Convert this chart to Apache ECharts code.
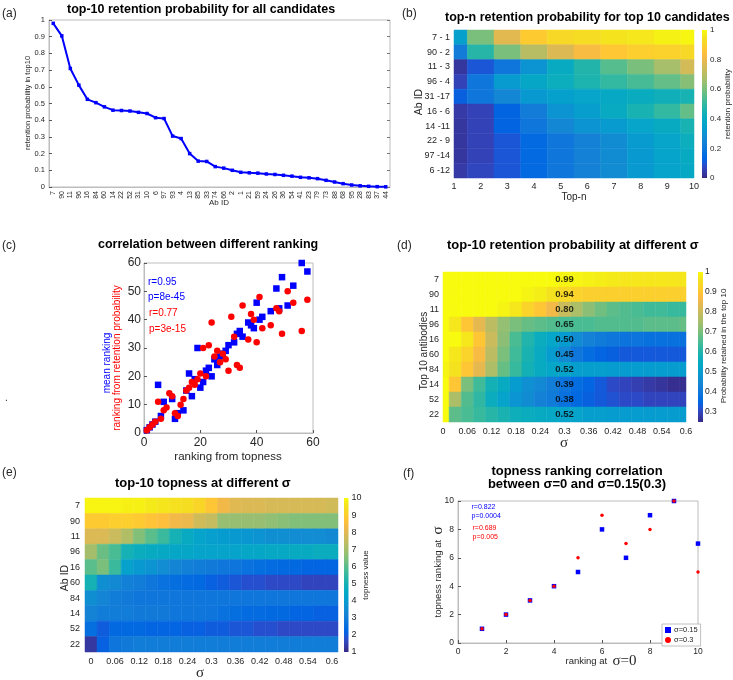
<!DOCTYPE html>
<html><head><meta charset="utf-8">
<script src="https://cdn.jsdelivr.net/npm/echarts@6/dist/echarts.min.js"></script>
<style>html,body{margin:0;padding:0;background:#fff}#c{width:733px;height:680px}</style>
</head><body><div id="c"></div>
<script>
// ---------------- data ----------------
const aIds = ['7','90','11','96','16','84','60','14','22','52','31','10','6','97','93','4','13','85','33','74','66','2','1','21','59','24','26','36','54','41','23','79','73','88','68','95','28','83','37','44'];
const aProb = [0.98,0.905,0.71,0.61,0.525,0.505,0.48,0.46,0.458,0.455,0.447,0.44,0.415,0.41,0.305,0.29,0.2,0.155,0.153,0.122,0.113,0.1,0.088,0.085,0.083,0.078,0.075,0.07,0.065,0.058,0.055,0.05,0.04,0.03,0.02,0.012,0.007,0.004,0.002,0.001];

const bRows = ['7 - 1','90 - 2','11 - 3','96 - 4','31 -17','16 - 6','14 -11','22 - 9','97 -14','6 -12'];
const bTopN = [1,2,3,4,5,6,7,8,9,10];
const bVals = [
  [0.35,0.6,0.78,0.88,0.92,0.93,0.95,0.96,0.98,0.99],
  [0.22,0.48,0.6,0.7,0.77,0.83,0.87,0.89,0.9,0.92],
  [0.03,0.1,0.2,0.3,0.4,0.47,0.55,0.6,0.67,0.75],
  [0.06,0.2,0.33,0.38,0.42,0.46,0.5,0.53,0.57,0.62],
  [0.12,0.2,0.26,0.32,0.35,0.37,0.39,0.41,0.43,0.45],
  [0.04,0.06,0.13,0.22,0.3,0.34,0.4,0.45,0.5,0.57],
  [0.03,0.06,0.13,0.2,0.26,0.3,0.33,0.37,0.4,0.45],
  [0.03,0.06,0.1,0.15,0.2,0.24,0.28,0.33,0.37,0.42],
  [0.03,0.06,0.1,0.15,0.2,0.24,0.28,0.32,0.36,0.4],
  [0.04,0.07,0.1,0.15,0.2,0.24,0.28,0.32,0.36,0.39]
];

const cBlueX = [1,2,3,4,5,6,7,10,11,12,14,15,16,17,18,19,20,21,22,23,24,25,26,27,28,29,30,32,33,34,35,37,38,39,40,41,42,45,47,48,49,51,53,56,58];
const cBlueY = [1,2,3,4,17,6,11,12,5,7,8,15,21,13,19,30,16,18,22,23,20,26,24,27,28,29,31,32,35,36,34,39,38,37,46,40,41,43,51,44,55,45,52,60,57];
const cRedX = [1,2,3,4,5,6,7,8,9,10,11,12,13,14,15,16,17,18,19,20,21,22,23,24,25,26,27,28,29,30,31,32,33,34,35,37,38,39,40,41,42,45,47,48,49,51,53,56,58];
const cRedY = [1,2,3,4,11,5,8,9,14,13,7,6,10,12,15,16,18,17,19,21,30,20,31,39,27,29,25,28,26,22,41,34,24,23,45,33,42,40,32,48,37,38,44,43,35,50,46,36,47];

const sigmas = [0,0.03,0.06,0.09,0.12,0.15,0.18,0.21,0.24,0.27,0.3,0.33,0.36,0.39,0.42,0.45,0.48,0.51,0.54,0.57,0.6];
const sigmaTicks = [0,0.06,0.12,0.18,0.24,0.3,0.36,0.42,0.48,0.54,0.6];
const sigmaTickLabels = ['0','0.06','0.12','0.18','0.24','0.3','0.36','0.42','0.48','0.54','0.6'];

const dRows = ['7','90','11','96','16','60','84','14','52','22'];
const dVals = [
  [1,1,1,1,1,1,1,1,1,1,0.99,0.99,0.985,0.98,0.975,0.97,0.97,0.97,0.97,0.97,0.97],
  [1,1,1,1,1,1,1,0.99,0.98,0.96,0.94,0.93,0.92,0.92,0.92,0.92,0.92,0.92,0.92,0.92,0.92],
  [1,1,1,1,1,0.99,0.97,0.93,0.9,0.86,0.8,0.76,0.72,0.69,0.67,0.66,0.65,0.64,0.64,0.63,0.63],
  [1,0.97,0.9,0.84,0.78,0.73,0.7,0.68,0.67,0.66,0.65,0.65,0.65,0.66,0.66,0.66,0.66,0.67,0.67,0.67,0.68],
  [1,1,0.97,0.9,0.8,0.72,0.65,0.6,0.56,0.53,0.5,0.46,0.43,0.41,0.4,0.39,0.39,0.38,0.38,0.38,0.38],
  [1,0.97,0.93,0.87,0.78,0.7,0.64,0.59,0.55,0.5,0.45,0.4,0.37,0.35,0.34,0.33,0.33,0.33,0.33,0.33,0.33],
  [0.99,0.96,0.9,0.84,0.76,0.68,0.63,0.58,0.55,0.53,0.52,0.51,0.51,0.51,0.5,0.5,0.5,0.5,0.5,0.5,0.5],
  [1,0.9,0.7,0.64,0.58,0.55,0.5,0.47,0.45,0.42,0.39,0.37,0.35,0.33,0.31,0.3,0.29,0.28,0.27,0.26,0.26],
  [1,0.76,0.66,0.62,0.56,0.52,0.48,0.46,0.43,0.41,0.38,0.36,0.34,0.33,0.32,0.31,0.31,0.3,0.3,0.3,0.3],
  [1,0.67,0.65,0.63,0.61,0.59,0.57,0.56,0.55,0.54,0.52,0.52,0.51,0.51,0.5,0.5,0.5,0.5,0.5,0.5,0.5]
];
const dMarkSigma = 0.3;
const dMarkLabels = ['0.99','0.94','0.80','0.65','0.50','0.45','0.52','0.39','0.38','0.52'];
const dCbTicks = [0.3,0.4,0.5,0.6,0.7,0.8,0.9,1];

const eRows = ['7','90','11','96','16','60','84','14','52','22'];
const eVals = [
  [9.9,9.9,9.9,9.8,9.8,9.7,9.6,9.5,9.4,9.2,8.8,8.3,8.0,7.9,7.9,7.8,7.8,7.8,7.8,7.8,7.7],
  [8.9,8.9,9.0,9.0,8.9,8.7,8.6,8.3,8.2,7.7,7.5,6.8,6.8,6.8,6.8,6.7,6.6,6.5,6.5,6.5,6.5],
  [7.9,7.9,7.6,7.2,6.5,6.0,5.6,5.0,4.6,4.3,4.1,4.0,3.9,3.8,3.7,3.6,3.6,3.5,3.5,3.5,3.4],
  [7.0,6.2,5.8,5.0,4.7,4.6,4.5,4.4,4.4,4.3,4.3,4.3,4.3,4.4,4.4,4.5,4.5,4.6,4.6,4.7,4.7],
  [6.0,6.4,5.6,4.2,3.9,3.7,3.5,3.3,3.1,3.0,2.9,2.8,2.7,2.6,2.5,2.4,2.3,2.3,2.2,2.2,2.2],
  [5.0,3.6,3.4,3.1,3.0,2.8,2.6,2.5,2.4,2.3,2.1,2.0,1.9,1.8,1.8,1.7,1.7,1.7,1.6,1.6,1.6],
  [3.6,3.3,3.0,2.9,2.8,2.8,2.8,2.8,2.8,2.8,2.8,2.8,2.8,2.8,2.8,2.8,2.8,2.8,2.8,2.8,2.8],
  [3.2,3.0,3.0,3.0,2.9,2.9,2.9,2.8,2.8,2.8,2.7,2.6,2.5,2.4,2.4,2.3,2.3,2.2,2.2,2.1,2.1],
  [2.5,2.0,2.3,2.3,2.3,2.2,2.2,2.2,2.1,2.1,2.0,2.0,1.9,1.9,1.8,1.8,1.7,1.7,1.7,1.7,1.7],
  [1.3,2.1,2.7,2.9,3.0,3.0,3.0,3.0,3.0,3.0,3.0,3.0,3.0,3.0,3.0,3.0,3.0,3.0,3.0,3.0,3.0]
];

const fRank0 = [1,2,3,4,5,6,7,8,9,10];
const fRank015 = [1,2,3,4,5,8,6,9,10,7];
const fRank03 = [1,2,3,4,6,9,7,8,10,5];

// ---------------- style helpers ----------------
const FONT = "'Liberation Sans', Arial, Helvetica, sans-serif";
const SERIF = "'Liberation Serif', 'DejaVu Serif', serif";
const TXT = '#262626';
const BOX = '#bdbdbd';
const PARULA = [[0.2081,0.1663,0.5292],[0.2116,0.1898,0.5777],[0.2123,0.2138,0.627],[0.2081,0.2386,0.6771],[0.1959,0.2645,0.7279],[0.1707,0.2919,0.7792],[0.1253,0.3242,0.8303],[0.0591,0.3598,0.8683],[0.0117,0.3875,0.882],[0.006,0.4086,0.8828],[0.0165,0.4266,0.8786],[0.0329,0.443,0.872],[0.0498,0.4586,0.8641],[0.0629,0.4737,0.8554],[0.0723,0.4887,0.8467],[0.0779,0.504,0.8384],[0.0793,0.52,0.8312],[0.0749,0.5375,0.8263],[0.0641,0.557,0.824],[0.0488,0.5772,0.8228],[0.0343,0.5966,0.8199],[0.0265,0.6137,0.8135],[0.0239,0.6287,0.8038],[0.0231,0.6418,0.7913],[0.0228,0.6535,0.7768],[0.0267,0.6642,0.7607],[0.0384,0.6743,0.7436],[0.059,0.6838,0.7254],[0.0843,0.6928,0.7062],[0.1133,0.7015,0.6859],[0.1453,0.7098,0.6646],[0.1801,0.7177,0.6424],[0.2178,0.725,0.6193],[0.2586,0.7317,0.5954],[0.3022,0.7376,0.5712],[0.3482,0.7424,0.5473],[0.3953,0.7459,0.5244],[0.442,0.7481,0.5033],[0.4871,0.7491,0.484],[0.53,0.7491,0.4661],[0.5709,0.7485,0.4494],[0.6099,0.7473,0.4337],[0.6473,0.7456,0.4188],[0.6834,0.7435,0.4044],[0.7184,0.7411,0.3905],[0.7525,0.7384,0.3768],[0.7858,0.7356,0.3633],[0.8185,0.7327,0.3498],[0.8507,0.7299,0.336],[0.8824,0.7274,0.3217],[0.9139,0.7258,0.3063],[0.945,0.7261,0.2886],[0.9739,0.7314,0.2666],[0.9938,0.7455,0.2403],[0.999,0.7653,0.2164],[0.9955,0.7861,0.1967],[0.988,0.8066,0.1794],[0.9789,0.8271,0.1633],[0.9697,0.8481,0.1475],[0.9626,0.8705,0.1309],[0.9589,0.8949,0.1132],[0.9598,0.9218,0.0948],[0.9661,0.9514,0.0755],[0.9763,0.9831,0.0538]];
const parulaCss = PARULA.map(c => 'rgb(' + c.map(v => Math.round(v*255)).join(',') + ')');

function heatData(vals, xs) {
  const out = [];
  vals.forEach((row, r) => row.forEach((v, k) => out.push([xs[k], r, v])));
  return out;
}
function heatItem(step) {
  return function (params, api) {
    const c = api.coord([api.value(0), api.value(1)]);
    const s = api.size([step, 1]);
    const cs = params.coordSys;
    const r = echarts.graphic.clipRectByRect(
      {x: c[0] - s[0]/2, y: c[1] - s[1]/2, width: s[0], height: s[1]},
      {x: cs.x, y: cs.y, width: cs.width, height: cs.height});
    if (!r) return;
    const col = api.visual('color');
    return {type: 'rect', shape: r, style: {fill: col, stroke: col, lineWidth: 0.5}};
  };
}
function cbItem(params, api) {
  const cs = params.coordSys;
  return {type: 'rect', shape: {x: cs.x, y: cs.y, width: cs.width, height: cs.height},
    style: {fill: new echarts.graphic.LinearGradient(0, 1, 0, 0,
      parulaCss.map((c, i) => ({offset: i/(parulaCss.length-1), color: c})))}};
}
function fmtNum(v) { return String(+v.toFixed(4)); }
function sigFmt(v) { const i = sigmaTicks.indexOf(+v.toFixed(2)); return i >= 0 ? sigmaTickLabels[i] : fmtNum(v); }

function txt(x, y, text, size, opt) {
  opt = opt || {};
  return {type: 'text', x: x, y: y, rotation: opt.rot ? Math.PI/2 : 0, z: 100,
    style: {text: text, fill: opt.color || TXT, align: opt.align || 'center', verticalAlign: 'middle',
      font: (opt.bold ? 'bold ' : '') + size + 'px ' + (opt.font || FONT), rich: opt.rich}};
}

const hiddenX = (g) => ({gridIndex: g, type: 'value', min: 0, max: 1, show: false});
const lbl = (size, margin, extra) => Object.assign({fontSize: size, color: TXT, fontFamily: FONT, margin: margin}, extra || {});

const option = {
  animation: false,
  backgroundColor: '#fff',
  grid: [
    {left: 49, top: 20, width: 341, height: 167, show: true, borderColor: BOX, borderWidth: 1, backgroundColor: 'transparent'},
    {left: 454, top: 30, width: 240, height: 148},
    {left: 702, top: 30, width: 5, height: 148},
    {left: 144, top: 263, width: 169, height: 170, show: true, borderColor: BOX, borderWidth: 1, backgroundColor: 'transparent'},
    {left: 443, top: 272, width: 243, height: 150},
    {left: 698, top: 272, width: 5, height: 150},
    {left: 85, top: 498, width: 253, height: 154},
    {left: 344, top: 498, width: 4.5, height: 154},
    {left: 458, top: 501, width: 240, height: 142, show: true, borderColor: BOX, borderWidth: 1, backgroundColor: 'transparent'}
  ],
  xAxis: [
    {gridIndex: 0, type: 'category', data: aIds, boundaryGap: true,
      axisLine: {lineStyle: {color: BOX}}, axisTick: {inside: true, alignWithLabel: true, length: 3, lineStyle: {color: '#555'}},
      axisLabel: lbl(7, 4, {interval: 0, rotate: 90})},
    {gridIndex: 1, type: 'value', min: 1, max: 10, interval: 1,
      axisLine: {show: false}, axisTick: {inside: true, length: 3, lineStyle: {color: '#444'}}, splitLine: {show: false},
      axisLabel: lbl(9, 4)},
    hiddenX(2),
    {gridIndex: 3, type: 'value', min: 0, max: 60, interval: 20,
      axisLine: {lineStyle: {color: BOX}}, axisTick: {inside: true, length: 3, lineStyle: {color: '#555'}}, splitLine: {show: false},
      axisLabel: lbl(12, 4)},
    {gridIndex: 4, type: 'value', min: 0, max: 0.6,
      axisLine: {show: false}, axisTick: {inside: true, length: 3, customValues: sigmaTicks, lineStyle: {color: '#444'}}, splitLine: {show: false},
      axisLabel: lbl(9, 5, {customValues: sigmaTicks, formatter: sigFmt})},
    hiddenX(5),
    {gridIndex: 6, type: 'value', min: -0.015, max: 0.615,
      axisLine: {show: false}, axisTick: {inside: true, length: 3, customValues: sigmaTicks, lineStyle: {color: '#444'}}, splitLine: {show: false},
      axisLabel: lbl(9, 5, {customValues: sigmaTicks, formatter: sigFmt})},
    hiddenX(7),
    {gridIndex: 8, type: 'value', min: 0, max: 10, interval: 2,
      axisLine: {lineStyle: {color: BOX}}, axisTick: {inside: true, length: 3, lineStyle: {color: '#555'}}, splitLine: {show: false},
      axisLabel: lbl(8.5, 4)},
    {gridIndex: 0, type: 'category', data: aIds, position: 'top', boundaryGap: true,
      axisLine: {show: false}, axisTick: {inside: true, alignWithLabel: true, length: 3, lineStyle: {color: '#777'}}, axisLabel: {show: false}}
  ],
  yAxis: [
    {gridIndex: 0, type: 'value', min: 0, max: 1, interval: 0.1,
      axisLine: {show: true, lineStyle: {color: BOX}}, axisTick: {show: true, inside: true, length: 3, lineStyle: {color: '#555'}}, splitLine: {show: false},
      axisLabel: lbl(7.5, 4, {formatter: v => fmtNum(v)})},
    {gridIndex: 1, type: 'category', data: bRows, inverse: true,
      axisLine: {show: false}, axisTick: {show: false}, axisLabel: lbl(9, 4)},
    {gridIndex: 2, type: 'value', min: 0, max: 1, interval: 0.2, position: 'right',
      axisLine: {show: false}, axisTick: {show: false}, splitLine: {show: false},
      axisLabel: lbl(8, 3, {formatter: v => fmtNum(v)})},
    {gridIndex: 3, type: 'value', min: 0, max: 60, interval: 10,
      axisLine: {show: true, lineStyle: {color: BOX}}, axisTick: {show: true, inside: true, length: 3, lineStyle: {color: '#555'}}, splitLine: {show: false},
      axisLabel: lbl(12, 3)},
    {gridIndex: 4, type: 'category', data: dRows, inverse: true,
      axisLine: {show: false}, axisTick: {show: false}, axisLabel: lbl(9, 4)},
    {gridIndex: 5, type: 'value', min: 0.25, max: 1, position: 'right',
      axisLine: {show: false}, axisTick: {show: false}, splitLine: {show: false},
      axisLabel: lbl(8.5, 2, {customValues: dCbTicks, formatter: v => fmtNum(v)})},
    {gridIndex: 6, type: 'category', data: eRows, inverse: true,
      axisLine: {show: false}, axisTick: {show: false}, axisLabel: lbl(9, 5)},
    {gridIndex: 7, type: 'value', min: 1, max: 10, interval: 1, position: 'right',
      axisLine: {show: false}, axisTick: {show: false}, splitLine: {show: false},
      axisLabel: lbl(9, 3)},
    {gridIndex: 8, type: 'value', min: 0, max: 10, interval: 2,
      axisLine: {show: true, lineStyle: {color: BOX}}, axisTick: {show: true, inside: true, length: 3, lineStyle: {color: '#555'}}, splitLine: {show: false},
      axisLabel: lbl(8.5, 4)},
    {gridIndex: 0, type: 'value', min: 0, max: 1, interval: 0.1, position: 'right',
      axisLine: {show: false}, axisTick: {show: true, inside: true, length: 3, lineStyle: {color: '#777'}}, axisLabel: {show: false}, splitLine: {show: false}}
  ],
  visualMap: [
    {type: 'continuous', show: false, seriesIndex: 1, dimension: 2, min: 0, max: 1, inRange: {color: parulaCss}},
    {type: 'continuous', show: false, seriesIndex: 5, dimension: 2, min: 0.25, max: 1, inRange: {color: parulaCss}},
    {type: 'continuous', show: false, seriesIndex: 7, dimension: 2, min: 1, max: 10, inRange: {color: parulaCss}}
  ],
  legend: {
    orient: 'vertical', left: 662, top: 624, padding: [2, 3, 2, 3], itemGap: 2,
    itemWidth: 6, itemHeight: 6, borderColor: '#b0b0b0', borderWidth: 0.8, backgroundColor: '#fff',
    data: [{name: 'σ=0.15', icon: 'rect'}, {name: 'σ=0.3', icon: 'circle'}],
    textStyle: {fontSize: 7.5, color: TXT, fontFamily: FONT, padding: [0, 0, 0, -2]}
  },
  series: [
    {type: 'line', xAxisIndex: 0, yAxisIndex: 0, data: aProb, symbol: 'rect', symbolSize: 3.5,
      lineStyle: {color: '#0000ff', width: 2}, itemStyle: {color: '#0000ff'}},
    {type: 'custom', xAxisIndex: 1, yAxisIndex: 1, renderItem: heatItem(1), data: heatData(bVals, bTopN), encode: {x: 0, y: 1}},
    {type: 'custom', xAxisIndex: 2, yAxisIndex: 2, renderItem: cbItem, data: [[0.5, 0.5]], silent: true},
    {type: 'scatter', xAxisIndex: 3, yAxisIndex: 3, symbol: 'rect', symbolSize: 6.5, itemStyle: {color: '#0000ff', opacity: 1},
      data: cBlueX.map((x, i) => [x, cBlueY[i]])},
    {type: 'scatter', xAxisIndex: 3, yAxisIndex: 3, symbol: 'circle', symbolSize: 6.5, itemStyle: {color: '#ff0000', opacity: 1},
      data: cRedX.map((x, i) => [x, cRedY[i]])},
    {type: 'custom', xAxisIndex: 4, yAxisIndex: 4, renderItem: heatItem(0.03), data: heatData(dVals, sigmas), encode: {x: 0, y: 1}},
    {type: 'custom', xAxisIndex: 5, yAxisIndex: 5, renderItem: cbItem, data: [[0.5, 0.5]], silent: true},
    {type: 'custom', xAxisIndex: 6, yAxisIndex: 6, renderItem: heatItem(0.03), data: heatData(eVals, sigmas), encode: {x: 0, y: 1}},
    {type: 'custom', xAxisIndex: 7, yAxisIndex: 7, renderItem: cbItem, data: [[0.5, 5]], silent: true},
    {type: 'scatter', name: 'σ=0.15', xAxisIndex: 8, yAxisIndex: 8, symbol: 'rect', symbolSize: 4.5, itemStyle: {color: '#0000ff', opacity: 1},
      data: fRank0.map((x, i) => [x, fRank015[i]])},
    {type: 'scatter', name: 'σ=0.3', xAxisIndex: 8, yAxisIndex: 8, symbol: 'circle', symbolSize: 3.5, itemStyle: {color: '#ff0000', opacity: 1},
      data: fRank0.map((x, i) => [x, fRank03[i]])},
    {type: 'scatter', xAxisIndex: 4, yAxisIndex: 4, symbolSize: 0, silent: true,
      data: dMarkLabels.map((t, i) => [dMarkSigma, i, t]),
      label: {show: true, position: 'inside', formatter: p => p.data[2], fontSize: 9.5, fontWeight: 'bold', color: '#000', fontFamily: FONT}}
  ],
  graphic: [
    txt(2, 13.5, '(a)', 12, {align: 'left'}),
    txt(67, 10, 'top-10 retention probability for all candidates', 12.5, {align: 'left', bold: true, color: '#000'}),
    txt(28, 103, 'retention probability in top10', 7.5, {rot: true}),
    txt(219, 203, 'Ab ID', 8),
    txt(402, 13.5, '(b)', 12, {align: 'left'}),
    txt(445, 17.5, 'top-n retention probability for top 10 candidates', 12.5, {align: 'left', bold: true, color: '#000'}),
    txt(419, 102, 'Ab ID', 10.5, {rot: true}),
    txt(574, 197, 'Top-n', 10),
    txt(728, 104, 'retention probability', 8, {rot: true}),
    txt(2, 246, '(c)', 12, {align: 'left'}),
    txt(98, 245, 'correlation between different ranking', 12.5, {align: 'left', bold: true, color: '#000'}),
    txt(148, 282, 'r=0.95', 10, {align: 'left', color: '#0000ff'}),
    txt(148, 297, 'p=8e-45', 10, {align: 'left', color: '#0000ff'}),
    txt(149, 313, 'r=0.77', 10, {align: 'left', color: '#ff0000'}),
    txt(149, 329, 'p=3e-15', 10, {align: 'left', color: '#ff0000'}),
    txt(107, 363, 'mean ranking', 10, {rot: true, color: '#0000ff'}),
    txt(117, 358, 'ranking from retention probability', 10, {rot: true, color: '#ff0000'}),
    txt(228, 457, 'ranking from topness', 11.5),
    txt(5, 398, '.', 10, {align: 'left'}),
    txt(397, 246, '(d)', 12, {align: 'left'}),
    txt(447, 245.5, 'top-10 retention probability at different σ', 13, {align: 'left', bold: true, color: '#000'}),
    txt(424, 351, 'Top 10 antibodies', 10, {rot: true}),
    txt(564, 443, 'σ', 15, {font: SERIF}),
    txt(724, 346, 'Probability retained in the top 10', 8, {rot: true}),
    txt(2, 473, '(e)', 12, {align: 'left'}),
    txt(115, 483, 'top-10 topness at different σ', 13, {align: 'left', bold: true, color: '#000'}),
    txt(65, 578, 'Ab ID', 10.5, {rot: true}),
    txt(200, 673, 'σ', 15, {font: SERIF}),
    txt(366, 575, 'topness value', 8, {rot: true}),
    txt(403, 474, '(f)', 12, {align: 'left'}),
    txt(577, 471, 'topness ranking correlation', 13, {bold: true, color: '#000'}),
    txt(577, 484, 'between σ=0 and σ=0.15(0.3)', 13, {bold: true, color: '#000'}),
    txt(471.5, 507, 'r=0.822', 7, {align: 'left', color: '#0000ff'}),
    txt(471.5, 516, 'p=0.0004', 7, {align: 'left', color: '#0000ff'}),
    txt(472.5, 528, 'r=0.689', 7, {align: 'left', color: '#ff0000'}),
    txt(472.5, 537, 'p=0.005', 7, {align: 'left', color: '#ff0000'}),
    txt(438, 572, '{a|topness ranking at  }{s|σ}', 9.5, {rot: true, rich: {
      a: {fontSize: 9.5, fontFamily: FONT, color: TXT},
      s: {fontSize: 15, fontFamily: SERIF, color: TXT}}}),
    txt(601, 661, '{a|ranking at  }{s|σ=0}', 9.5, {rich: {
      a: {fontSize: 9.5, fontFamily: FONT, color: TXT},
      s: {fontSize: 15, fontFamily: SERIF, color: TXT}}})
  ]
};

const chart = echarts.init(document.getElementById('c'), null, {renderer: 'canvas'});
chart.setOption(option);
</script>
</body></html>
